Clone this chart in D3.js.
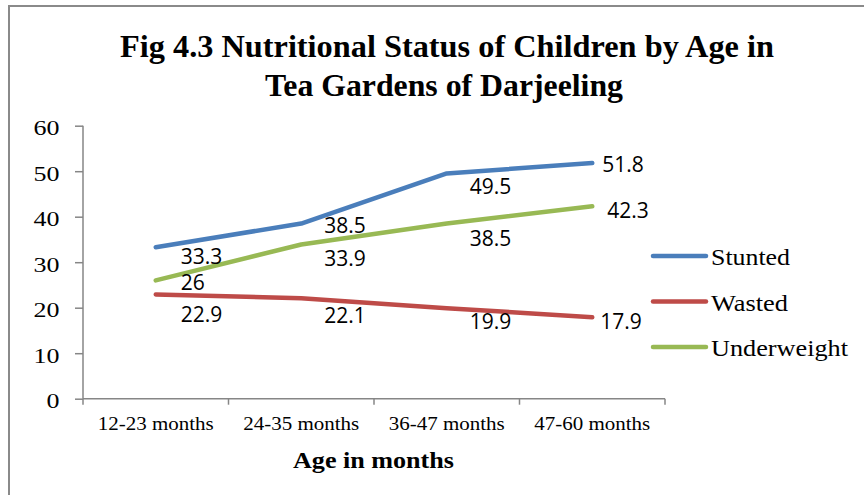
<!DOCTYPE html>
<html><head><meta charset="utf-8">
<script src="https://cdn.jsdelivr.net/npm/d3@7"></script>
<style>body{margin:0;background:#fff}svg{display:block}</style>
</head><body>
<svg id="c" width="864" height="495"></svg>
<script>
const categories = ["12-23 months","24-35 months","36-47 months","47-60 months"];
const stunted = [33.3, 38.5, 49.5, 51.8];
const wasted = [22.9, 22.1, 19.9, 17.9];
const underweight = [26, 33.9, 38.5, 42.3];
const seriesNames = ["Stunted","Wasted","Underweight"];
const yTicks = [0,10,20,30,40,50,60];
const titleLines = ["Fig 4.3 Nutritional Status of Children by Age in","Tea Gardens of Darjeeling"];
const xTitle = "Age in months";

// label offsets (style only): [dx, dy] per point
const labelOffsets = [
  [[25,17],[23,9],[23,21],[10,9]],
  [[25,27],[23,25],[23,21],[8,12]],
  [[25,10],[23,22],[23,22],[15,12]]
];
const legendTextWidths = [79, 77, 137];
const colors = ["#4a7ebb","#be4b48","#98b954"];
const seriesData = [stunted, wasted, underweight];
const serif = "'Liberation Serif','Times New Roman',serif";

const svg = d3.select("#c");
// outer border
svg.append("path").attr("d","M9,500 L9,6 L870,6").attr("fill","none").attr("stroke","#8a8a8a").attr("stroke-width",2);

const x = d3.scaleBand().domain(categories).range([83,665]);
const y = d3.scaleLinear().domain([0,60]).range([398.7,125.7]);

// title
titleLines.forEach((t,i)=>{
  svg.append("text").attr("x", i===0?447:444).attr("y", i===0?57:95.5)
    .attr("text-anchor","middle").attr("font-family",serif)
    .attr("font-weight","bold").attr("font-size",32)
    .attr("textLength", i===0?654:358).attr("lengthAdjust","spacingAndGlyphs")
    .attr("fill","#000").text(t);
});

// y axis
const yAxis = d3.axisLeft(y).tickValues(yTicks).tickSize(8).tickPadding(15.5);
const gy = svg.append("g").attr("transform","translate(83,0)").call(yAxis);
gy.select(".domain").attr("stroke","#868686").attr("stroke-width",1.5).attr("d","M0,125.7V398.7");
gy.selectAll(".tick line").attr("stroke","#868686").attr("stroke-width",1.5);
gy.selectAll(".tick text").attr("font-family",serif)
  .attr("font-size",20).attr("fill","#000").attr("dy","0.46em")
  .attr("textLength",d=>String(d).length*13).attr("lengthAdjust","spacingAndGlyphs");

// x axis
const xAxis = d3.axisBottom(x).tickSize(0).tickPadding(0);
const gx = svg.append("g").attr("transform","translate(0,398.7)").call(xAxis);
gx.select(".domain").attr("stroke","#868686").attr("stroke-width",1.5).attr("d","M83,0H665");
gx.selectAll(".tick text").attr("font-family",serif)
  .attr("font-size",18).attr("fill","#000").attr("y",31.5).attr("dy",0)
  .attr("textLength",116).attr("lengthAdjust","spacingAndGlyphs");
// boundary tick marks
const bounds = categories.map(c=>x(c)).concat([x.range()[1]]);
gx.selectAll(".bt").data(bounds).enter().append("line")
  .attr("x1",d=>d).attr("x2",d=>d).attr("y1",0).attr("y2",6)
  .attr("stroke","#868686").attr("stroke-width",1.5);

svg.append("text").attr("x",373.5).attr("y",468).attr("text-anchor","middle")
  .attr("font-family",serif).attr("font-weight","bold")
  .attr("font-size",24).attr("textLength",161).attr("lengthAdjust","spacingAndGlyphs")
  .attr("fill","#000").text(xTitle);

// lines
const cx = c => x(c) + x.bandwidth()/2;
const line = d3.line().x((d,i)=>cx(categories[i])).y(d=>y(d));
seriesData.forEach((s,k)=>{
  svg.append("path").datum(s).attr("d",line).attr("fill","none")
    .attr("stroke",colors[k]).attr("stroke-width",4.5)
    .attr("stroke-linecap","round").attr("stroke-linejoin","round");
});
// data labels
seriesData.forEach((s,k)=>{
  s.forEach((v,i)=>{
    svg.append("text").attr("x",cx(categories[i])+labelOffsets[k][i][0])
      .attr("y",y(v)+labelOffsets[k][i][1])
      .attr("font-family","'Open Sans','Noto Sans',sans-serif").attr("font-size",21)
      .attr("fill","#000").text(String(v));
  });
});

// legend
seriesNames.forEach((n,k)=>{
  const ly = 256 + k*45.5;
  svg.append("line").attr("x1",653).attr("x2",706).attr("y1",ly).attr("y2",ly)
    .attr("stroke",colors[k]).attr("stroke-width",4.5).attr("stroke-linecap","round");
  svg.append("text").attr("x",711).attr("y",ly+9)
    .attr("font-family",serif).attr("font-size",23)
    .attr("textLength",legendTextWidths[k]).attr("lengthAdjust","spacingAndGlyphs")
    .attr("fill","#000").text(n);
});
</script>
</body></html>
